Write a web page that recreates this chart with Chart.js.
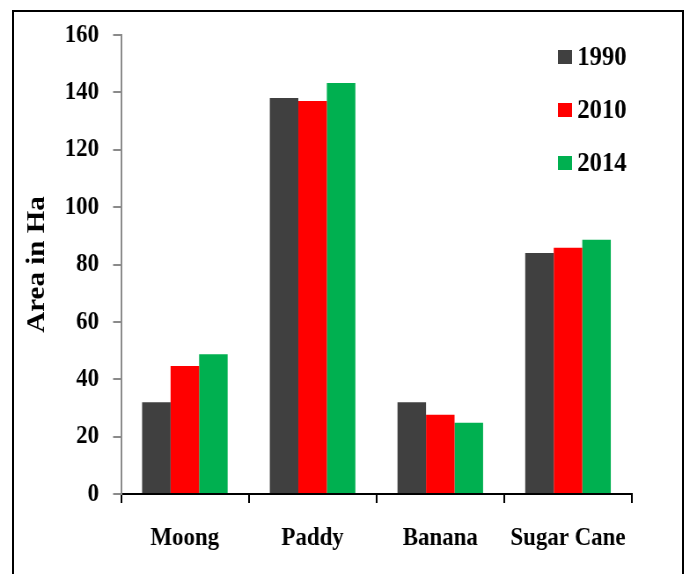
<!DOCTYPE html>
<html>
<head>
<meta charset="utf-8">
<script src="https://cdn.jsdelivr.net/npm/chart.js@4"></script>
<style>
    html, body { margin: 0; padding: 0; background: #fff; overflow: hidden; }
    #frame {
        position: absolute; left: 12px; top: 10px;
        width: 668px; height: 600px;
        border: 2px solid #000;
    }
    /* the source chart looks horizontally squeezed, so draw wider and squeeze */
    #bars {
        position: absolute; left: 0; top: 0;
        transform: scaleX(0.88);
        transform-origin: 0 0;
    }
</style>
</head>
<body>
<div id="frame"></div>
<canvas id="bars" width="782" height="574"></canvas>
<script>
// AREA CHART
const crops = ['Moong', 'Paddy', 'Banana', 'Sugar Cane'];
const years = ['1990', '2010', '2014'];
const area1990 = [32, 138, 32, 84];
const area2010 = [44.6, 137, 27.6, 85.8];
const area2014 = [48.7, 143.3, 24.8, 88.6];
const yTicks = [0, 20, 40, 60, 80, 100, 120, 140, 160];

const colors = ['#404040', '#FF0000', '#00B050'];
const serif = "'Liberation Serif', 'Times New Roman', serif";

// legend drawn inside the plot, top right
const cornerLegend = {
    id: 'cornerLegend',
    afterDraw(chart) {
        const ctx = chart.ctx;
        ctx.save();
        ctx.font = 'bold 28px ' + serif;
        ctx.textBaseline = 'middle';
        chart.data.datasets.forEach((ds, i) => {
            const y = 57 + i * 53;
            ctx.fillStyle = ds.backgroundColor;
            ctx.fillRect(634, y - 7, 16, 14);
            ctx.fillStyle = '#000';
            ctx.fillText(ds.label, 656, y + 1);
        });
        ctx.restore();
    }
};

const barsCtx = document.getElementById('bars');

new Chart(barsCtx, {
    type: 'bar',
    data: {
        labels: crops,
        datasets: [area1990, area2010, area2014].map((values, i) => ({
            label: years[i],
            data: values,
            backgroundColor: colors[i],
            borderWidth: 0,
            categoryPercentage: 0.67,
            barPercentage: 1.0,
        }))
    },
    options: {
        responsive: false,
        animation: false,
        plugins: {
            legend: { display: false },
            tooltip: { enabled: false },
        },
        layout: {
            padding: { top: 35, right: 64, left: 0, bottom: 0 }
        },
        scales: {
            x: {
                afterFit: (scale) => { scale.height = 80; },
                grid: {
                    offset: true,
                    drawOnChartArea: false,
                    tickLength: 9,
                    color: '#000',
                    lineWidth: 2,
                },
                border: { color: '#000', width: 2 },
                ticks: {
                    color: '#000',
                    padding: 20,
                    font: { family: serif, size: 26, weight: 'bold' },
                },
            },
            y: {
                min: 0,
                max: 160,
                afterFit: (scale) => { scale.width = 137.5; },
                afterBuildTicks: (scale) => {
                    scale.ticks = yTicks.map(v => ({ value: v }));
                },
                grid: {
                    drawOnChartArea: false,
                    tickLength: 9,
                    color: '#8a8a8a',
                    lineWidth: 2,
                },
                border: { color: '#8a8a8a', width: 2 },
                ticks: {
                    color: '#000',
                    padding: 16,
                    font: { family: serif, size: 26, weight: 'bold' },
                },
                title: {
                    display: true,
                    text: 'Area in Ha',
                    color: '#000',
                    padding: { top: 25, bottom: 0 },
                    font: { family: serif, size: 29, weight: 'bold' },
                },
            }
        }
    },
    plugins: [cornerLegend],
});
</script>
</body>
</html>
